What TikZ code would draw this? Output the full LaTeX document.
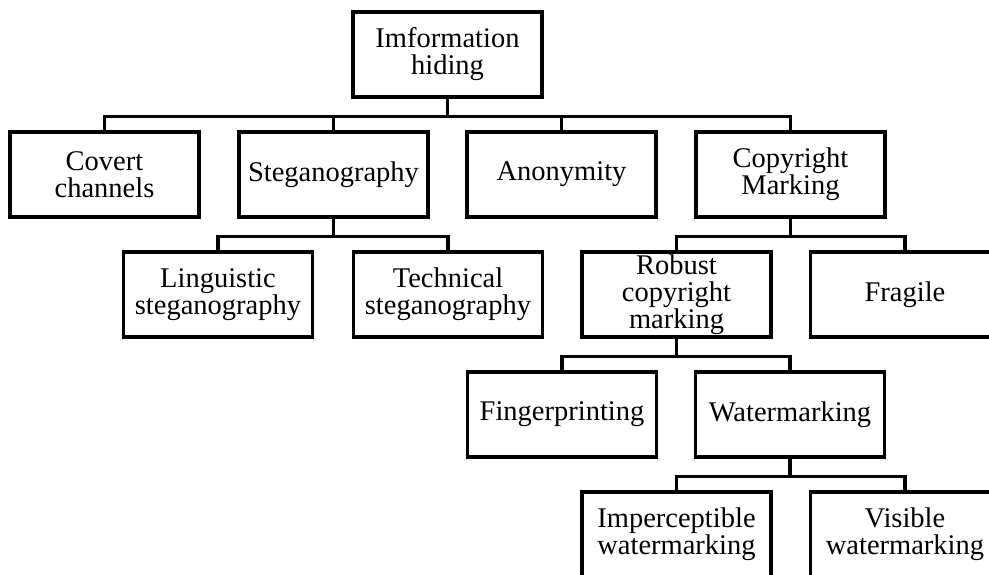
\documentclass[tikz,border=0pt]{standalone}
\usepackage{fontspec}
\setmainfont{Liberation Serif}
\begin{document}
\begin{tikzpicture}[x=1pt,y=-1pt,
  box/.style={draw=black,line width=3.4pt,rectangle,minimum width=189pt,minimum height=85pt,
    inner sep=0pt,align=center,font=\fontsize{28.5pt}{27pt}\selectfont},
  link/.style={draw=black,line width=3.2pt}]
\useasboundingbox (0,0) rectangle (989,574);
\clip (0,0) rectangle (989,574);
\fill[white] (0,0) rectangle (989,574);
\node[box] (root) at (447.5,54.5) {Imformation\\hiding};
\node[box] (covert) at (104.5,174.5) {Covert\\channels};
\node[box] (steg) at (333.5,174.5) {Steganography};
\node[box] (anon) at (561.5,174.5) {Anonymity};
\node[box] (copy) at (790.5,174.5) {Copyright\\Marking};
\node[box] (ling) at (218,294.5) {Linguistic\\steganography};
\node[box] (tech) at (448,294.5) {Technical\\steganography};
\node[box] (robust) at (676.5,294.5) {Robust\\copyright\\marking};
\node[box] (fragile) at (905,294.5) {Fragile};
\node[box] (finger) at (562,414.5) {Fingerprinting};
\node[box] (water) at (790,414.5) {Watermarking};
\node[box] (imperc) at (676.5,534.5) {Imperceptible\\watermarking};
\node[box] (visible) at (905,534.5) {Visible\\watermarking};
\foreach \p/\c in {root/covert,root/steg,root/anon,root/copy,steg/ling,steg/tech,copy/robust,copy/fragile,robust/finger,robust/water,water/imperc,water/visible}
  \draw[link] (\p.south) -- ++(0,18) -| (\c.north);
\end{tikzpicture}
\end{document}
